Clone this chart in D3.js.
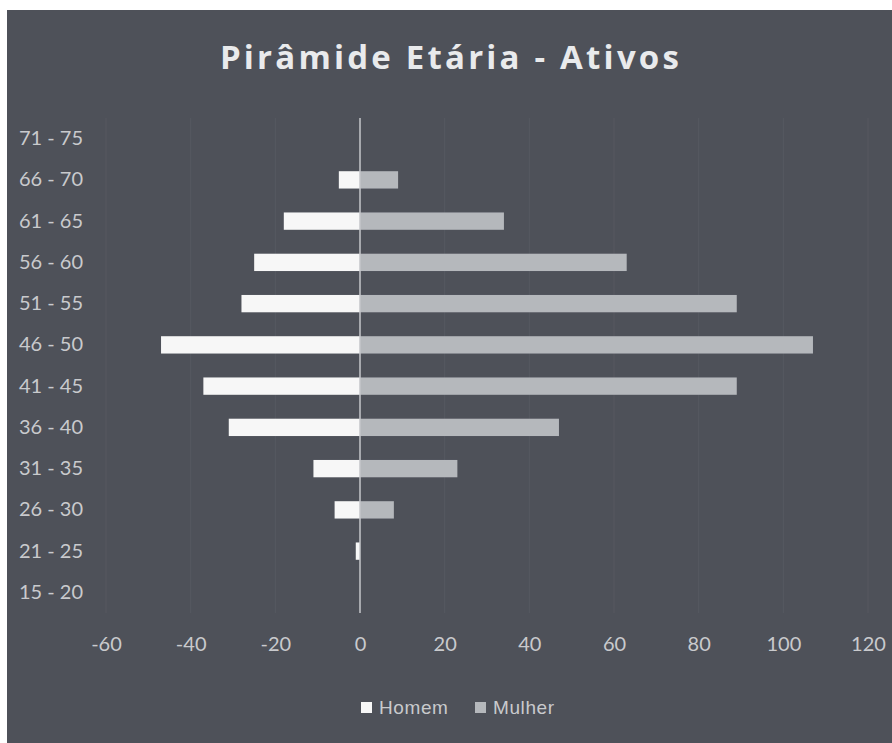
<!DOCTYPE html>
<html>
<head>
<meta charset="utf-8">
<script src="https://cdn.jsdelivr.net/npm/d3@7"></script>
<style>
  html, body { margin: 0; padding: 0; background: #ffffff; }
  svg { display: block; }
</style>
</head>
<body>
<svg id="chart" width="892" height="743"></svg>
<script>
// ---- data ----
const title = "Pirâmide Etária - Ativos";
const ageGroups = ["71 - 75", "66 - 70", "61 - 65", "56 - 60", "51 - 55", "46 - 50",
                   "41 - 45", "36 - 40", "31 - 35", "26 - 30", "21 - 25", "15 - 20"];
const homem  = [0, -5, -18, -25, -28, -47, -37, -31, -11, -6, -1, 0];
const mulher = [0, 9, 34, 63, 89, 107, 89, 47, 23, 8, 0, 0];
const seriesNames = ["Homem", "Mulher"];
const xTicks = [-60, -40, -20, 0, 20, 40, 60, 80, 100, 120];

// ---- styling ----
const W = 892, H = 743;
const bg = "#4e5159";
const colHomem = "#f7f7f7";
const colMulher = "#b5b8bc";
const textCol = "#c9cacd";

const svg = d3.select("#chart");

svg.append("rect").attr("x", 7).attr("y", 10).attr("width", W - 7).attr("height", H - 10)
  .attr("fill", bg);

svg.append("text")
  .attr("x", 451).attr("y", 69)
  .attr("text-anchor", "middle")
  .attr("font-family", "'Open Sans', sans-serif")
  .attr("font-weight", "bold")
  .attr("font-size", 33)
  .attr("letter-spacing", 3.2)
  .attr("fill", "#e9eaec")
  .text(title);

const x = d3.scaleLinear().domain([-60, 120]).range([106, 868]);
const y = d3.scaleBand().domain(ageGroups).range([118, 613]).paddingInner(0.58).paddingOuter(0.29);

// faint gridlines
svg.append("g").selectAll("line").data(xTicks).join("line")
  .attr("x1", d => x(d)).attr("x2", d => x(d))
  .attr("y1", 118).attr("y2", 613)
  .attr("stroke", "#565961").attr("stroke-width", 1);

// bars
const rows = ageGroups.map((g, i) => ({ g, h: homem[i], m: mulher[i] }));
svg.append("g").selectAll("rect").data(rows).join("rect")
  .attr("x", d => x(Math.min(0, d.h)))
  .attr("width", d => Math.abs(x(d.h) - x(0)))
  .attr("y", d => y(d.g))
  .attr("height", y.bandwidth())
  .attr("fill", colHomem);
svg.append("g").selectAll("rect").data(rows).join("rect")
  .attr("x", x(0))
  .attr("width", d => x(d.m) - x(0))
  .attr("y", d => y(d.g))
  .attr("height", y.bandwidth())
  .attr("fill", colMulher);

// zero line
svg.append("line")
  .attr("x1", x(0)).attr("x2", x(0))
  .attr("y1", 118).attr("y2", 613)
  .attr("stroke", "#c4c6ca").attr("stroke-width", 1.5);

// category labels (axis at left)
const yAxis = d3.axisLeft(y).tickSize(0).tickPadding(0);
const gy = svg.append("g").attr("transform", "translate(83,0)").call(yAxis);
gy.select(".domain").remove();
gy.selectAll("text")
  .attr("font-family", "Lato, sans-serif")
  .attr("font-size", 20)
  .attr("fill", textCol);

// x axis labels
const xAxis = d3.axisBottom(x).tickValues(xTicks).tickFormat(d => String(d)).tickSize(0).tickPadding(0);
const gx = svg.append("g").attr("transform", "translate(0,637)").call(xAxis);
gx.select(".domain").remove();
gx.selectAll("text")
  .attr("font-family", "Lato, sans-serif")
  .attr("font-size", 20)
  .attr("fill", textCol);

// legend
const legend = svg.append("g");
const legendItems = [
  { name: seriesNames[0], col: colHomem, x: 361 },
  { name: seriesNames[1], col: colMulher, x: 475 }
];
legendItems.forEach(it => {
  legend.append("rect").attr("x", it.x).attr("y", 702).attr("width", 11).attr("height", 11).attr("fill", it.col);
  legend.append("text").attr("x", it.x + 18).attr("y", 714)
    .attr("font-family", "'Liberation Sans', Arial, sans-serif")
    .attr("font-size", 19)
    .attr("letter-spacing", 0.6)
    .attr("fill", textCol)
    .text(it.name);
});
</script>
</body>
</html>
